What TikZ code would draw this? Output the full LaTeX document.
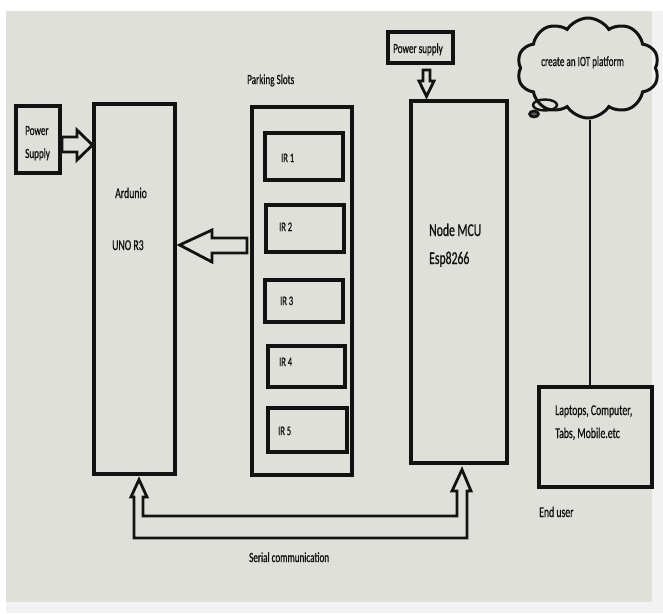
\documentclass[tikz,border=0pt]{standalone}
\usepackage{fontspec}
\setmainfont{Carlito}[FakeStretch=0.65,FakeBold=0.8]
\usetikzlibrary{shapes.symbols,calc}
\definecolor{scr}{RGB}{224,224,218}
\definecolor{ink}{RGB}{18,18,18}
\newcommand\bx[5]{\node[box, minimum width={#4-#2}, minimum height={#5-#3}] (#1) at ({(#2+#4)/2},{(#3+#5)/2}) {};}
\tikzset{
  box/.style={draw=ink, line width=3.2pt, rectangle, inner sep=0pt},
  lbl/.style={anchor=base west, inner sep=0pt, text=ink, font=\fontsize{14}{16}\selectfont},
  harrow/.style={draw=ink, line width=2.8pt, line join=miter, fill=scr},
}
\begin{document}
\begin{tikzpicture}[x=1pt,y=-1pt]
\useasboundingbox (0,0) rectangle (663,613);
\fill[white] (0,0) rectangle (663,613);
\fill[scr] (6,11) rectangle (652,602);
\fill[gray!10] (652,11) rectangle (663,613);
\fill[gray!10] (6,602) rectangle (652,613);

% boxes
\bx{psL}{16}{106}{60}{173}
\bx{ard}{94}{104}{175}{474}
\bx{park}{252}{107}{352}{475}
\bx{ir1}{265}{133}{343}{180}
\bx{ir2}{266}{205}{344}{252}
\bx{ir3}{265}{280}{343}{322}
\bx{ir4}{268}{346}{345}{387}
\bx{ir5}{268}{408}{347}{452}
\bx{psT}{388}{32}{453}{63}
\bx{mcu}{411}{101}{507}{463}
\bx{lap}{539}{387}{652}{487}

% cloud
\node[cloud, draw=ink, line width=3pt, cloud puffs=10, cloud puff arc=115, cloud ignores aspect,
      minimum width=142pt, minimum height=100pt, inner sep=0pt] (cloud) at (588,68) {};
\draw[ink, line width=2.4pt] (545,105) ellipse (12 and 5.5);
\draw[ink, line width=2.6pt, fill=ink!70] (534,114) ellipse (4.5 and 3);

% texts
\node[lbl] (tPow1) at (25,135) {Power};
\node[lbl] (tPow2) at (25,158) {Supply};
\node[lbl, font=\fontsize{15}{17}\selectfont] (tArd) at (115,198) {Ardunio};
\node[lbl, font=\fontsize{15}{17}\selectfont] (tUno) at (112,250) {UNO R3};
\node[lbl] (tPark) at (247,84) {Parking Slots};
\node[lbl, font=\fontsize{13}{15}\selectfont] (tIr1) at (281,162) {IR 1};
\node[lbl, font=\fontsize{13}{15}\selectfont] (tIr2) at (279,231) {IR 2};
\node[lbl, font=\fontsize{13}{15}\selectfont] (tIr3) at (280,305) {IR 3};
\node[lbl, font=\fontsize{13}{15}\selectfont] (tIr4) at (279,366) {IR 4};
\node[lbl, font=\fontsize{13}{15}\selectfont] (tIr5) at (278,435) {IR 5};
\node[lbl] (tPsT) at (393,53) {Power supply};
\node[lbl, font=\fontsize{18}{20}\selectfont] (tMcu) at (429,236) {Node MCU};
\node[lbl, font=\fontsize{18}{20}\selectfont] (tEsp) at (429,264) {Esp8266};
\node[lbl] (tCloud) at (541,66) {create an IOT platform};
\node[lbl, font=\fontsize{15}{17}\selectfont] (tLap1) at (555,415) {Laptops, Computer,};
\node[lbl, font=\fontsize{15}{17}\selectfont] (tLap2) at (555,438) {Tabs, Mobile.etc};
\node[lbl, font=\fontsize{15}{17}\selectfont] (tEnd) at (539,517) {End user};
\node[lbl] (tSer) at (249,562) {Serial communication};

% power supply -> arduino
\draw[harrow] (62,137) -- (77,137) -- (77,130) -- (ard.west |- 0,145) -- (77,160) -- (77,152) -- (62,152) -- cycle;
% parking slots -> arduino
\draw[harrow] (247,238) -- (212,238) -- (212,230) -- ($(ard.east |- 0,245)+(3,0)$) -- (212,262) -- (212,253) -- (247,253) -- cycle;
% power supply -> node mcu
\draw[harrow] (423,70) -- (430,70) -- (430,81) -- (434,81) -- ($(mcu.north -| 426.5,0)+(0,-3)$) -- (419,81) -- (423,81) -- cycle;
% serial communication
\draw[harrow] ($(ard.south -| 139,0)+(0,4)$) -- (147,497) -- (143,497) -- (143,516) -- (457,516) -- (457,491)
   -- (452,491) -- ($(mcu.south -| 462,0)+(0,5)$) -- (471,491) -- (467,491) -- (467,538) -- (134,538) -- (134,497) -- (131,497) -- cycle;
% cloud -> end user devices
\draw[ink, line width=2.4pt] (cloud.south -| 590,0) -- (lap.north -| 590,0);
\end{tikzpicture}
\end{document}
